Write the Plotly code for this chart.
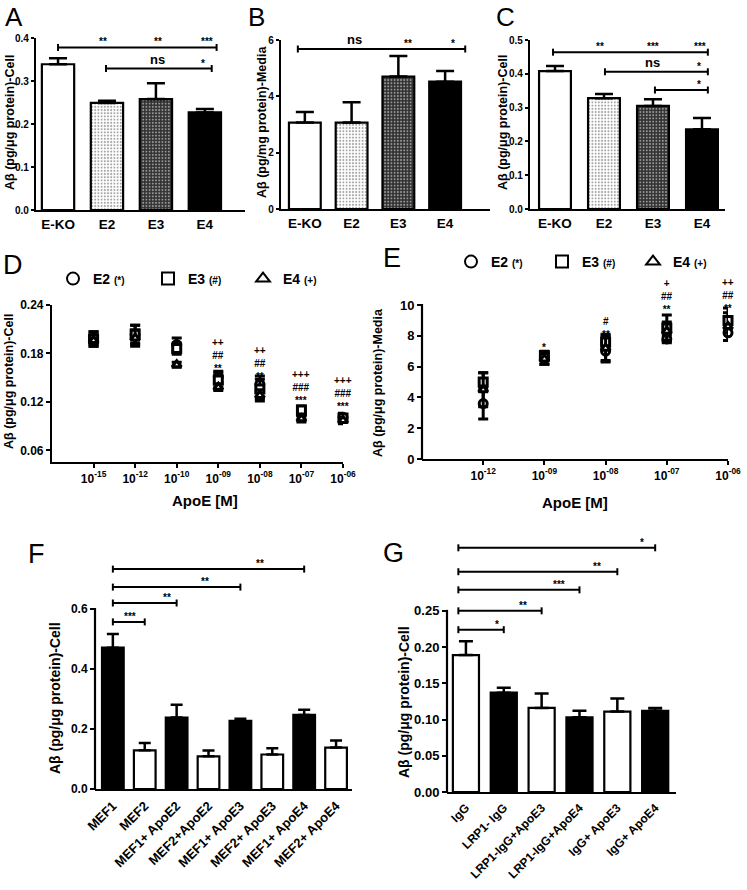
import plotly.graph_objects as go

W, H = 747, 890
FONT = "Liberation Sans, Arial, Helvetica, sans-serif"

# ---------------- data ----------------
cats_abc = ["E-KO", "E2", "E3", "E4"]
a_vals = [0.339, 0.249, 0.258, 0.227]
a_errs = [0.014, 0.005, 0.037, 0.008]
b_vals = [3.07, 3.07, 4.70, 4.52]
b_errs = [0.37, 0.72, 0.73, 0.38]
c_vals = [0.408, 0.328, 0.305, 0.236]
c_errs = [0.015, 0.012, 0.020, 0.033]

d_conc = ["10<sup>-15</sup>", "10<sup>-12</sup>", "10<sup>-10</sup>", "10<sup>-09</sup>",
          "10<sup>-08</sup>", "10<sup>-07</sup>", "10<sup>-06</sup>"]
d_e2 = [0.199, 0.203, 0.191, 0.151, 0.142, 0.104, 0.101]
d_e2_err = [0.008, 0.012, 0.008, 0.007, 0.010, 0.006, 0.005]
d_e3 = [0.198, 0.204, 0.186, 0.147, 0.136, 0.110, 0.100]
d_e3_err = [0.009, 0.011, 0.007, 0.009, 0.012, 0.005, 0.004]
d_e4 = [0.196, 0.199, 0.166, 0.138, 0.128, 0.099, 0.097]
d_e4_err = [0.007, 0.010, 0.003, 0.004, 0.007, 0.004, 0.004]

e_conc = ["10<sup>-12</sup>", "10<sup>-09</sup>", "10<sup>-08</sup>", "10<sup>-07</sup>", "10<sup>-06</sup>"]
e_e2 = [3.6, 6.5, 7.0, 7.8, 8.2]
e_e2_err = [1.0, 0.35, 0.6, 0.25, 0.5]
e_e3 = [5.0, 6.7, 7.6, 8.5, 9.0]
e_e3_err = [0.6, 0.3, 0.4, 0.85, 0.8]
e_e4 = [4.5, 6.5, 7.2, 8.3, 8.6]
e_e4_err = [1.1, 0.35, 0.9, 0.6, 0.9]

f_groups = ["MEF1", "MEF2", "MEF1+ ApoE2", "MEF2+ApoE2", "MEF1+ ApoE3",
            "MEF2+ ApoE3", "MEF1+ ApoE4", "MEF2+ ApoE4"]
f_vals = [0.471, 0.129, 0.238, 0.109, 0.227, 0.115, 0.247, 0.138]
f_errs = [0.046, 0.024, 0.043, 0.019, 0.007, 0.021, 0.017, 0.024]

g_groups = ["IgG", "LRP1- IgG", "LRP1-IgG+ApoE3", "LRP1-IgG+ApoE4", "IgG+ ApoE3", "IgG+ ApoE4"]
g_vals = [0.189, 0.137, 0.116, 0.103, 0.111, 0.112]
g_errs = [0.019, 0.007, 0.020, 0.009, 0.018, 0.004]

# significance brackets: (x0, x1, y, [(x, label), ...])
a_sig = [(0, 3.24, 0.378, [(0.92, "**"), (2.04, "**"), (3.04, "***")]),
         (0.98, 3.14, 0.329, [(2.04, "ns"), (2.96, "*")])]
b_sig = [(-0.15, 3.43, 5.68, [(1.07, "ns"), (2.2, "**"), (3.17, "*")])]
c_sig = [(-0.04, 3.12, 0.464, [(0.92, "**"), (2.0, "***"), (2.96, "***")]),
         (1.02, 3.12, 0.406, [(2.0, "ns"), (2.94, "*")]),
         (2.04, 3.12, 0.352, [(2.94, "*")])]
f_sig = [(0, 6, 0.733, [(4.6, "**")]),
         (0, 4, 0.673, [(2.9, "**")]),
         (0, 2, 0.620, [(1.7, "**")]),
         (0, 1, 0.557, [(0.53, "***")])]
g_sig = [(-0.2, 5, 0.337, [(4.66, "*")]),
         (-0.2, 4, 0.304, [(3.45, "**")]),
         (-0.2, 3, 0.279, [(2.47, "***")]),
         (-0.2, 2, 0.250, [(1.5, "**")]),
         (-0.2, 1, 0.224, [(0.82, "*")])]

# stacked significance marks above the dose points: (category index, centre y, lines)
d_marks = [(3, 0.178, ["++", "##", "**"]),
           (4, 0.168, ["++", "##", "**"]),
           (5, 0.138, ["+++", "###", "***"]),
           (6, 0.130, ["+++", "###", "***"])]
e_marks = [(1, 7.25, ["*"]),
           (2, 8.5, ["#", "**"]),
           (3, 10.55, ["+", "##", "**"]),
           (4, 10.6, ["++", "##", "**"])]

# ---------------- geometry (pixels) ----------------
P = {
    "A": dict(n=1, x=(36, 245), y=(38, 210), yr=(0, 0.4), xr=(-0.45, 3.82)),
    "B": dict(n=2, x=(281, 490), y=(40, 209), yr=(0, 6), xr=(-0.51, 3.96)),
    "C": dict(n=3, x=(530, 725), y=(40, 209), yr=(0, 0.5), xr=(-0.51, 3.47)),
    "D": dict(n=4, x=(52, 343), y=(305, 462), yr=(0.0455, 0.24), xr=(-1, 6)),
    "E": dict(n=5, x=(422, 728), y=(277, 459), yr=(0, 11.82), xr=(-1, 4)),
    "F": dict(n=6, x=(95, 352), y=(564, 789), yr=(0, 0.75), xr=(-0.56, 7.5)),
    "G": dict(n=7, x=(447, 676), y=(542, 792), yr=(0, 0.345), xr=(-0.5, 5.55)),
}
MANUAL_YLINE = ("E", "F", "G")


def ax(n):
    return ("x" if n == 1 else f"x{n}"), ("y" if n == 1 else f"y{n}")


def ppu(p):
    return (p["y"][1] - p["y"][0]) / (p["yr"][1] - p["yr"][0])


fig = go.Figure()
shapes = []
annots = []


def bar_panel(p, cats, vals, errs, fills, pshape, pfg, pbg, width, capw):
    xa, ya = ax(p["n"])
    fig.add_trace(go.Bar(
        x=cats, y=vals, xaxis=xa, yaxis=ya, width=width, showlegend=False,
        marker=dict(color=fills, line=dict(color="black", width=2.2),
                    pattern=dict(shape=pshape, fgcolor=pfg, bgcolor=pbg, size=3.2, solidity=0.3)),
        error_y=dict(type="data", array=errs, arrayminus=[0] * len(errs), symmetric=False,
                     color="black", thickness=2.5, width=capw),
    ))


def brackets(p, sig, fsize=10):
    xa, ya = ax(p["n"])
    hl = 3.5 / ppu(p)
    for x0, x1, y, labels in sig:
        shapes.append(dict(type="line", xref=xa, yref=ya, x0=x0, x1=x1, y0=y, y1=y,
                           line=dict(color="black", width=2)))
        for xx in (x0, x1):
            shapes.append(dict(type="line", xref=xa, yref=ya, x0=xx, x1=xx, y0=y - hl, y1=y + hl,
                               line=dict(color="black", width=2)))
        for xx, t in labels:
            fs = 13 if t == "ns" else fsize
            annots.append(dict(xref=xa, yref=ya, x=xx, y=y, text=t, showarrow=False,
                               yanchor="bottom", yshift=-2 if t != "ns" else 0,
                               font=dict(family=FONT, size=fs, color="black", weight="bold")))


fills_abc = ["white", "white", "#303030", "black"]
pshape_abc = ["", ".", ".", ""]
pfg_abc = ["black", "black", "white", "black"]
pbg_abc = ["white", "white", "#303030", "black"]

bar_panel(P["A"], cats_abc, a_vals, a_errs, fills_abc, pshape_abc, pfg_abc, pbg_abc, 0.66, 9)
bar_panel(P["B"], cats_abc, b_vals, b_errs, fills_abc, pshape_abc, pfg_abc, pbg_abc, 0.68, 9)
bar_panel(P["C"], cats_abc, c_vals, c_errs, fills_abc, pshape_abc, pfg_abc, pbg_abc, 0.65, 9)

f_fill = ["black" if g.startswith("MEF1") else "white" for g in f_groups]
bar_panel(P["F"], f_groups, f_vals, f_errs, f_fill, [""] * 8, ["black"] * 8, f_fill, 0.68, 6)
g_fill = ["white", "black", "white", "black", "white", "black"]
bar_panel(P["G"], g_groups, g_vals, g_errs, g_fill, [""] * 6, ["black"] * 6, g_fill, 0.69, 7)

brackets(P["A"], a_sig)
brackets(P["B"], b_sig)
brackets(P["C"], c_sig)
brackets(P["F"], f_sig)
brackets(P["G"], g_sig)


def legend_name(k, s):
    return f"{k} <span style='font-size:10px'>({s})</span>"


series_syms = [("E2", "*", "circle"), ("E3", "#", "square"), ("E4", "+", "triangle-up")]
for pkey, xs, data, leg in (("D", d_conc, [(d_e2, d_e2_err), (d_e3, d_e3_err), (d_e4, d_e4_err)], "legend"),
                            ("E", e_conc, [(e_e2, e_e2_err), (e_e3, e_e3_err), (e_e4, e_e4_err)], "legend2")):
    xa, ya = ax(P[pkey]["n"])
    for (name, sym, symbol), (yv, ye) in zip(series_syms, data):
        fig.add_trace(go.Scatter(
            x=xs, y=yv, xaxis=xa, yaxis=ya, mode="markers", name=legend_name(name, sym),
            legend=leg, cliponaxis=False,
            marker=dict(symbol=symbol, size=8, color="white", line=dict(color="black", width=3)),
            error_y=dict(type="data", array=ye, color="black", thickness=3, width=5),
        ))

for pkey, marks in (("D", d_marks), ("E", e_marks)):
    xa, ya = ax(P[pkey]["n"])
    for xi, yv, lines in marks:
        annots.append(dict(xref=xa, yref=ya, x=xi, y=yv, text="<br>".join(lines), showarrow=False,
                           yanchor="middle",
                           font=dict(family=FONT, size=10, color="black", weight="bold")))

# ---------------- axes ----------------
layout = dict(width=W, height=H, margin=dict(l=0, r=0, t=0, b=0, autoexpand=False),
              paper_bgcolor="white", plot_bgcolor="white", bargap=0.3,
              font=dict(family=FONT, color="black"))

ytick_cfg = {
    "A": dict(tickvals=[0, 0.1, 0.2, 0.3, 0.4], tickformat=".1f", size=10, len=3),
    "B": dict(tickvals=[0, 2, 4, 6], tickformat="d", size=10, len=3),
    "C": dict(tickvals=[0, 0.1, 0.2, 0.3, 0.4, 0.5], tickformat=".1f", size=10, len=3),
    "D": dict(tickvals=[0.06, 0.12, 0.18, 0.24], tickformat=".2f", size=12, len=4),
    "E": dict(tickvals=[0, 2, 4, 6, 8, 10], tickformat="d", size=13, len=4),
    "F": dict(tickvals=[0, 0.2, 0.4, 0.6], tickformat=".1f", size=12, len=4),
    "G": dict(tickvals=[0, 0.05, 0.10, 0.15, 0.20, 0.25], tickformat=".2f", size=13, len=4),
}

for key, p in P.items():
    n = p["n"]
    xa, ya = ax(n)
    xname = "xaxis" if n == 1 else f"xaxis{n}"
    yname = "yaxis" if n == 1 else f"yaxis{n}"
    scatter = key in ("D", "E")
    rotated = key in ("F", "G")
    if scatter:
        xfs = 12
    elif rotated:
        xfs = 13 if key == "F" else 12
    else:
        xfs = 13.5
    layout[xname] = dict(
        domain=[p["x"][0] / W, p["x"][1] / W], range=list(p["xr"]), anchor=ya,
        showline=True, linecolor="black", linewidth=2.2, showgrid=False, zeroline=False,
        ticks="outside" if scatter else "", ticklen=4, tickwidth=2, tickcolor="black",
        tickangle=-45 if rotated else 0, type="category",
        tickfont=dict(family=FONT, size=xfs, color="black", weight="bold"),
        ticklabelstandoff=0 if scatter else (2 if rotated else 1),
    )
    yc = ytick_cfg[key]
    manual = key in MANUAL_YLINE
    layout[yname] = dict(
        domain=[1 - p["y"][1] / H, 1 - p["y"][0] / H], range=list(p["yr"]), anchor=xa,
        showline=not manual, linecolor="black", linewidth=2.2, showgrid=False, zeroline=False,
        ticks="outside", ticklen=yc["len"], tickwidth=2, tickcolor="black",
        tickvals=yc["tickvals"], tickformat=yc["tickformat"],
        tickfont=dict(family=FONT, size=yc["size"], color="black", weight="bold"),
    )
    if manual:
        top_val = yc["tickvals"][-1]
        ytop = p["y"][1] - (top_val - p["yr"][0]) * ppu(p)
        shapes.append(dict(type="line", xref="paper", yref="paper",
                           x0=p["x"][0] / W, x1=p["x"][0] / W,
                           y0=1 - (p["y"][1] + 1) / H, y1=1 - (ytop - 1) / H,
                           line=dict(color="black", width=2.2)))

# y titles, x titles, panel letters
ytitles = [("Aβ (pg/μg protein)-Cell", 10, 123, 12.5),
           ("Aβ (pg/mg protein)-Media", 262, 122, 12.5),
           ("Aβ (pg/μg protein)-Cell", 503, 123, 12.5),
           ("Aβ (pg/μg protein)-Cell", 9, 382, 12.5),
           ("Aβ (pg/μg protein)-Media", 378, 383, 12.5),
           ("Aβ (pg/μg protein)-Cell", 55, 698, 14),
           ("Aβ (pg/μg protein)-Cell", 404, 702, 14)]
for t, px, py, fs in ytitles:
    annots.append(dict(xref="paper", yref="paper", x=px / W, y=1 - py / H, text=t, textangle=-90,
                       showarrow=False, xanchor="center", yanchor="middle",
                       font=dict(family=FONT, size=fs, color="black", weight="bold")))

for px, py in ((205, 500), (575, 503)):
    annots.append(dict(xref="paper", yref="paper", x=px / W, y=1 - py / H, text="ApoE [M]",
                       showarrow=False, xanchor="center", yanchor="middle",
                       font=dict(family=FONT, size=15, color="black", weight="bold")))

# top-row letters are anchored to the top edge, the others by their centre
letters_top = [("A", 14), ("B", 256), ("C", 505)]
for t, px in letters_top:
    annots.append(dict(xref="paper", yref="paper", x=px / W, y=1, text=t,
                       showarrow=False, xanchor="center", yanchor="top",
                       font=dict(family=FONT, size=26, color="black")))
letters = [("D", 13, 265), ("E", 392, 258), ("F", 36, 554), ("G", 393, 553)]
for t, px, py in letters:
    annots.append(dict(xref="paper", yref="paper", x=px / W, y=1 - py / H, text=t,
                       showarrow=False, xanchor="center", yanchor="middle",
                       font=dict(family=FONT, size=27, color="black")))

legend_common = dict(orientation="h", xanchor="left", yanchor="middle", bgcolor="rgba(0,0,0,0)",
                     itemsizing="constant", entrywidthmode="pixels",
                     font=dict(family=FONT, size=14, color="black", weight="bold"), itemwidth=30)
layout["legend"] = dict(legend_common, x=53 / W, y=1 - 279 / H, entrywidth=50)
layout["legend2"] = dict(legend_common, x=451 / W, y=1 - 262 / H, entrywidth=46)

layout["shapes"] = shapes
layout["annotations"] = annots
fig.update_layout(**layout)

# no mode bar, and no default page margin so the 747x890 figure fills the window exactly
fig.write_html("out.html", config={"displayModeBar": False},
               post_script="document.body.style.margin='0';document.body.style.overflow='hidden';")
